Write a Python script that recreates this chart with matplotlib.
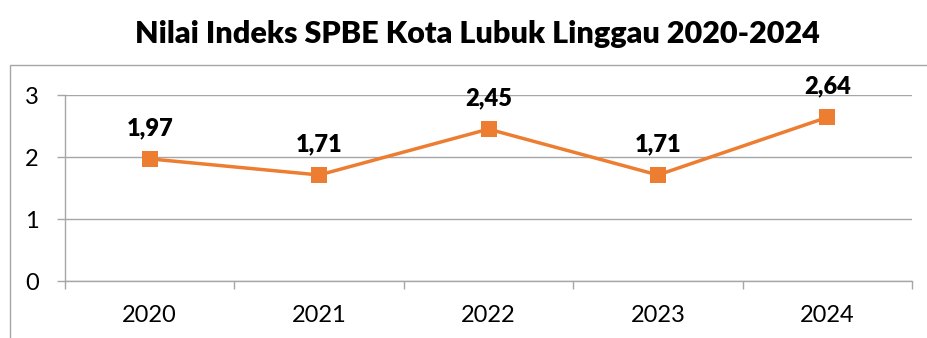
import matplotlib
matplotlib.use("Agg")
import matplotlib.pyplot as plt
from matplotlib.patches import Rectangle
from matplotlib.ticker import FixedLocator, NullFormatter

plt.rcParams['font.family'] = ['Lato', 'DejaVu Sans']

title = "Nilai Indeks SPBE Kota Lubuk Linggau 2020-2024"
years = ["2020", "2021", "2022", "2023", "2024"]
scores = [1.97, 1.71, 2.45, 1.71, 2.64]
score_labels = ["1,97", "1,71", "2,45", "1,71", "2,64"]
y_ticks = [0, 1, 2, 3]

W, H = 927, 338
fig = plt.figure(figsize=(W / 100, H / 100), dpi=100)
fig.patch.set_facecolor("white")

# chart frame
fig.patches.append(Rectangle((10 / W, -0.2), 1.2, 1 - 65 / H + 0.2,
                             transform=fig.transFigure, fill=False,
                             edgecolor="#a6a6a6", linewidth=1.0, zorder=0))

ax = fig.add_axes([65 / W, 1 - 281 / H, (912 - 65) / W, (281 - 95) / H])
x = list(range(len(years)))

ax.plot(x, scores, color="#ED7D31", linewidth=2.5, marker="s",
        markersize=12, markeredgewidth=0, zorder=3, clip_on=False)

for xi, v, lab in zip(x, scores, score_labels):
    ax.annotate(lab, (xi, v), xytext=(0, 17), textcoords="offset points",
                ha="center", va="baseline", fontsize=17, fontweight="heavy",
                color="black")

ax.set_xlim(-0.5, len(years) - 0.5)
ax.set_ylim(0, 3)
ax.set_yticks(y_ticks)
ax.set_yticklabels([str(t) for t in y_ticks])
ax.set_xticks(x)
ax.set_xticklabels(years)
ax.xaxis.set_minor_locator(FixedLocator([i - 0.5 for i in range(len(years) + 1)]))
ax.xaxis.set_minor_formatter(NullFormatter())

ax.grid(axis="y", color="#a6a6a6", linewidth=1.0)
ax.set_axisbelow(True)
for s in ["top", "right"]:
    ax.spines[s].set_visible(False)
ax.spines["left"].set_color("#a6a6a6")
ax.spines["bottom"].set_color("#a6a6a6")
ax.spines["left"].set_linewidth(1.0)
ax.spines["bottom"].set_linewidth(1.0)

ax.tick_params(axis="y", length=6, width=1.0, color="#a6a6a6", pad=13,
               labelsize=17)
ax.tick_params(axis="x", which="major", length=0, pad=17, labelsize=17)
ax.tick_params(axis="x", which="minor", length=6, width=1.0, color="#a6a6a6")

fig.text(477 / W, 1 - 43 / H, title, ha="center", va="baseline",
         fontsize=22, fontweight="heavy", color="black")

fig.savefig("out.png", dpi=100, facecolor="white")
